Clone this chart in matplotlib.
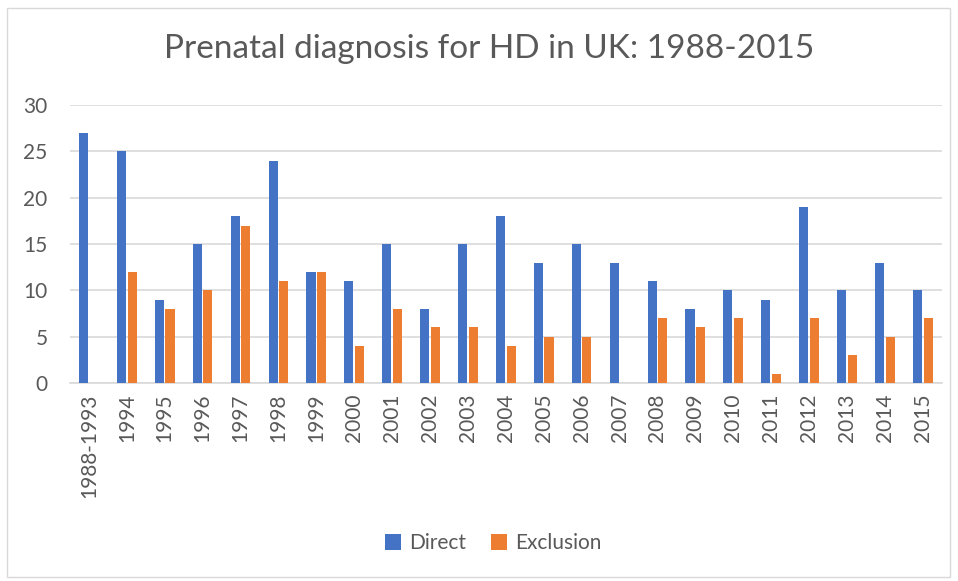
import matplotlib
matplotlib.use('Agg')
import matplotlib.pyplot as plt
from matplotlib.patches import Rectangle
import numpy as np

plt.rcParams['font.family'] = ['Lato', 'DejaVu Sans']

# Dados
anos = ['1988-1993', '1994', '1995', '1996', '1997', '1998', '1999', '2000',
        '2001', '2002', '2003', '2004', '2005', '2006', '2007', '2008',
        '2009', '2010', '2011', '2012', '2013', '2014', '2015']
direct = [27, 25, 9, 15, 18, 24, 12, 11, 15, 8, 15, 18, 13, 15, 13, 11,
          8, 10, 9, 19, 10, 13, 10]
exclusion = [0, 12, 8, 10, 17, 11, 12, 4, 8, 6, 6, 4, 5, 5, 0, 7,
             6, 7, 1, 7, 3, 5, 7]

azul = '#4472C4'
laranja = '#ED7D31'
cinza_txt = '#595959'

fig = plt.figure(figsize=(9.58, 5.81), dpi=100)
ax = fig.add_axes([0.073, 0.341, 0.910, 0.478])

x = np.arange(len(anos))
w = 0.24
ax.bar(x - w / 2 - 0.02, direct, width=w, color=azul, label='Direct', zorder=3)
ax.bar(x + w / 2 + 0.02, exclusion, width=w, color=laranja, label='Exclusion', zorder=3)

ax.set_xlim(-0.5, len(anos) - 0.5)
ax.set_ylim(0, 30)
ax.set_yticks(range(0, 31, 5))
ax.set_xticks(x)
ax.set_xticklabels(anos, rotation=90)
ax.tick_params(axis='both', length=0, labelsize=15, labelcolor=cinza_txt)
ax.tick_params(axis='y', pad=16)
ax.tick_params(axis='x', pad=8)
ax.grid(axis='y', color='#D9D9D9', linewidth=1.2, zorder=0)
for s in ['top', 'right', 'left']:
    ax.spines[s].set_visible(False)
ax.spines['bottom'].set_color('#D9D9D9')
ax.spines['bottom'].set_linewidth(1.2)

fig.text(0.511, 0.915, 'Prenatal diagnosis for HD in UK: 1988-2015', ha='center',
         va='center', fontsize=24, color=cinza_txt)

fig.legend(loc='center', bbox_to_anchor=(0.515, 0.065), ncol=2, frameon=False,
           fontsize=15, labelcolor=cinza_txt, handlelength=0.75, handleheight=0.75,
           columnspacing=1.2, handletextpad=0.4)

fig.patches.append(Rectangle((0.007, 0.007), 0.985, 0.98, transform=fig.transFigure,
                             fill=False, edgecolor='#D9D9D9', linewidth=1))

fig.savefig('out.png', dpi=100)
